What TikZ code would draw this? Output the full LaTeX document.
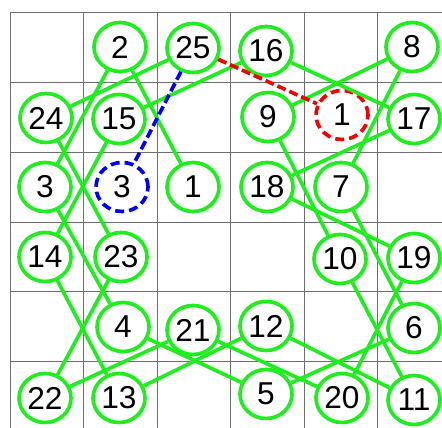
\documentclass[tikz,border=0pt]{standalone}
\usepackage{fontspec}
\setmainfont{Liberation Sans}
\usetikzlibrary{shapes.geometric}
\definecolor{movegreen}{RGB}{30,238,30}
\definecolor{gridgray}{RGB}{110,110,110}
\definecolor{tryred}{RGB}{245,0,0}
\definecolor{tryblue}{RGB}{0,0,240}

\begin{document}
\begin{tikzpicture}[
	x=0.03cm, y=-0.03cm,
	square/.style={
		ellipse, draw=movegreen, line width=0.11cm,
		minimum width=1.56cm, minimum height=1.47cm, inner sep=0pt,
		font=\fontsize{27}{31}\selectfont
	},
	redprobe/.style={
		square, draw=tryred, dash pattern=on 0.27cm off 0.15cm
	},
	blueprobe/.style={
		square, draw=tryblue, dash pattern=on 0.27cm off 0.15cm
	},
	gridline/.style={gridgray, line width=0.03cm},
	link/.style={movegreen, line width=0.11cm},
	redtry/.style={tryred, line width=0.11cm, dash pattern=on 0.27cm off 0.12cm},
	bluetry/.style={tryblue, line width=0.11cm, dash pattern=on 0.27cm off 0.12cm}
	]
	
	\useasboundingbox (0,0) rectangle (442,428);
	
	% board
	\foreach \gx in {10,83.5,157,230.5,304,377.5}
		\draw[gridline] (\gx,13) -- (\gx,428);
	\foreach \gy in {13,83,153,223,292,362}
		\draw[gridline] (10,\gy) -- (442,\gy);
	
	% row 1
	\node[square] (n2)  at (120,47)  {2};
	\node[square] (n25) at (193,48)  {25};
	\node[square] (n16) at (266,51)  {16};
	\node[square] (n8)  at (412,47)  {8};
	
	% row 2
	\node[square] (n24) at (46,118)  {24};
	\node[square] (n15) at (119,119) {15};
	\node[square] (n9)  at (268,117) {9};
	\node[redprobe] (cand1) at (342,115) {1};
	\node[square] (n17) at (414,119) {17};
	
	% row 3
	\node[square] (n3)  at (45,187)  {3};
	\node[blueprobe] (cand3) at (122,187) {3};
	\node[square] (n1)  at (193,187) {1};
	\node[square] (n18) at (267,187) {18};
	\node[square] (n7)  at (341,187) {7};
	
	% row 4
	\node[square] (n14) at (45,257)  {14};
	\node[square] (n23) at (121,257) {23};
	\node[square] (n10) at (340,259) {10};
	\node[square] (n19) at (414,258) {19};
	
	% row 5
	\node[square] (n4)  at (123,327) {4};
	\node[square] (n21) at (193,330) {21};
	\node[square] (n12) at (266,326) {12};
	\node[square] (n6)  at (414,328) {6};
	
	% row 6
	\node[square] (n22) at (45,398)  {22};
	\node[square] (n13) at (119,398) {13};
	\node[square] (n5)  at (266,394) {5};
	\node[square] (n20) at (342,398) {20};
	\node[square] (n11) at (414,400) {11};
	
	% knight moves
	\foreach \a/\b in {1/2,2/3,3/4,4/5,5/6,6/7,7/8,8/9,9/10,10/11,11/12,12/13,
		13/14,14/15,15/16,16/17,17/18,18/19,19/20,20/21,21/22,22/23,23/24,24/25}
		\draw[link] (n\a) -- (n\b);
	
	% next candidates
	\draw[redtry]  (n25) -- (cand1);
	\draw[bluetry] (n25) -- (cand3);
\end{tikzpicture}
\end{document}
